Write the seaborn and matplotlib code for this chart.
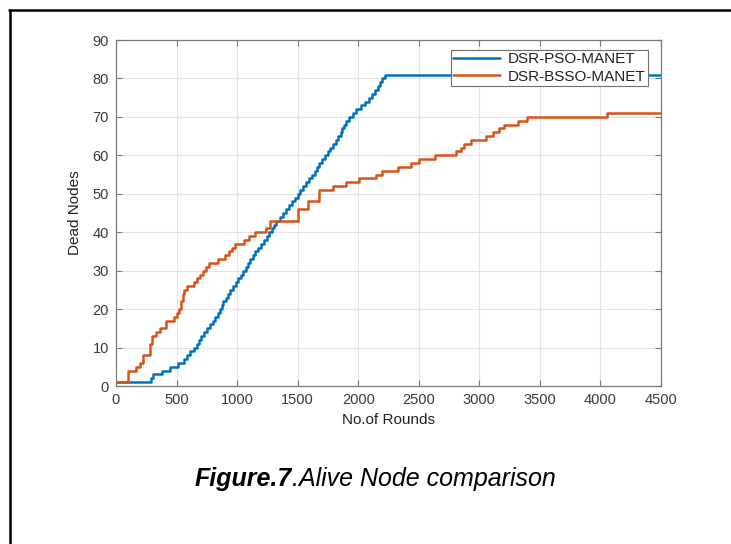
import matplotlib
matplotlib.use("Agg")
import matplotlib.pyplot as plt
from matplotlib.lines import Line2D
import seaborn as sns
import pandas as pd

# ---- data ----
pso_rounds = [0, 285, 305, 377, 445, 510, 560, 590, 615, 640, 665, 685, 705, 730, 750, 780,
              800, 818, 840, 860, 875, 886, 905, 925, 945, 965, 990, 1010, 1030, 1050, 1070,
              1090, 1110, 1130, 1150, 1170, 1195, 1220, 1245, 1265, 1285, 1305, 1325, 1350,
              1380, 1405, 1430, 1455, 1480, 1500, 1520, 1545, 1570, 1595, 1615, 1640, 1660,
              1680, 1700, 1725, 1750, 1770, 1795, 1815, 1835, 1855, 1870, 1880, 1895, 1925,
              1955, 1985, 2025, 2060, 2090, 2110, 2135, 2160, 2180, 2200, 2221, 4500]
pso_dead = list(range(1, 82)) + [81]

bsso_rounds = [0, 100, 165, 200, 225, 280, 300, 330, 360, 415, 480, 500, 520, 540, 550, 565,
               585, 640, 665, 690, 720, 740, 765, 845, 900, 930, 960, 985, 1060, 1100, 1145,
               1240, 1270, 1500, 1585, 1680, 1790, 1900, 2010, 2150, 2200, 2330, 2435, 2500,
               2630, 2810, 2850, 2875, 2930, 3055, 3110, 3165, 3205, 3320, 3390, 4050, 4500]
bsso_dead = [1, 4, 5, 6, 8, 11, 13, 14, 15, 17, 18, 19, 20, 22, 24, 25,
             26, 27, 28, 29, 30, 31, 32, 33, 34, 35, 36, 37, 38, 39, 40,
             41, 43, 46, 48, 51, 52, 53, 54, 55, 56, 57, 58, 59,
             60, 61, 62, 63, 64, 65, 66, 67, 68, 69, 70, 71, 71]

series_names = ["DSR-PSO-MANET", "DSR-BSSO-MANET"]
x_ticks = [0, 500, 1000, 1500, 2000, 2500, 3000, 3500, 4000, 4500]
y_ticks = [0, 10, 20, 30, 40, 50, 60, 70, 80, 90]
caption_bold = "Figure.7"
caption_rest = ".Alive Node comparison"

df = pd.concat([
    pd.DataFrame({"Rounds": pso_rounds, "Dead": pso_dead, "Method": series_names[0]}),
    pd.DataFrame({"Rounds": bsso_rounds, "Dead": bsso_dead, "Method": series_names[1]}),
])

sns.set_theme(style="white")
plt.rcParams["font.family"] = ["Liberation Sans", "DejaVu Sans"]

fig = plt.figure(figsize=(7.31, 5.44), dpi=100)
ax = fig.add_axes([116 / 731, 1 - 386 / 544, 545 / 731, 346 / 544])

palette = {series_names[0]: "#0072BD", series_names[1]: "#D95319"}
for name in series_names:
    sub = df[df["Method"] == name]
    sns.lineplot(data=sub, x="Rounds", y="Dead", ax=ax, color=palette[name],
                 label=name, estimator=None, sort=False, drawstyle="steps-post",
                 linewidth=1.8)

ax.set_xlim(0, 4500)
ax.set_ylim(0, 90)
ax.set_xticks(x_ticks)
ax.set_yticks(y_ticks)
ax.grid(True, color="#e3e3e3", linewidth=0.8)
ax.set_axisbelow(True)
for s in ax.spines.values():
    s.set_color("#7a7a7a")
    s.set_linewidth(0.9)
ax.tick_params(direction="in", length=4, width=0.8, color="#7a7a7a",
               labelcolor="#3a3a3a", labelsize=10.5, top=True, right=True,
               bottom=True, left=True, pad=5)
ax.set_xlabel("No.of Rounds", fontsize=11, color="#222222", labelpad=4)
ax.set_ylabel("Dead Nodes", fontsize=11, color="#222222", labelpad=8)

leg = ax.legend(loc="upper right", bbox_to_anchor=(1 - 13 / 545, 1 - 10 / 346), fontsize=11,
                frameon=True, fancybox=False, framealpha=1, edgecolor="#6e6e6e",
                handlelength=3.1, borderpad=0.15, labelspacing=0.22, handletextpad=0.5,
                borderaxespad=0.0)
leg.get_frame().set_linewidth(0.8)
for t in leg.get_texts():
    t.set_color("#222222")

# caption
cy = 1 - 479 / 544
t1 = fig.text(195 / 731, cy, caption_bold, fontsize=18, fontweight="bold",
              fontstyle="italic", ha="left", va="center", color="black")
fig.canvas.draw()
bb = t1.get_window_extent(fig.canvas.get_renderer())
fig.text(bb.x1 / fig.bbox.width, cy, caption_rest, fontsize=18,
         fontstyle="italic", ha="left", va="center", color="black")

# page frame lines (left and top)
fig.add_artist(Line2D([9.5 / 731, 9.5 / 731], [0, 1 - 10 / 544], color="black",
                      linewidth=1.8, transform=fig.transFigure))
fig.add_artist(Line2D([8.5 / 731, 1], [1 - 10 / 544, 1 - 10 / 544], color="black",
                      linewidth=1.8, transform=fig.transFigure))

fig.savefig("out.png", dpi=100)
